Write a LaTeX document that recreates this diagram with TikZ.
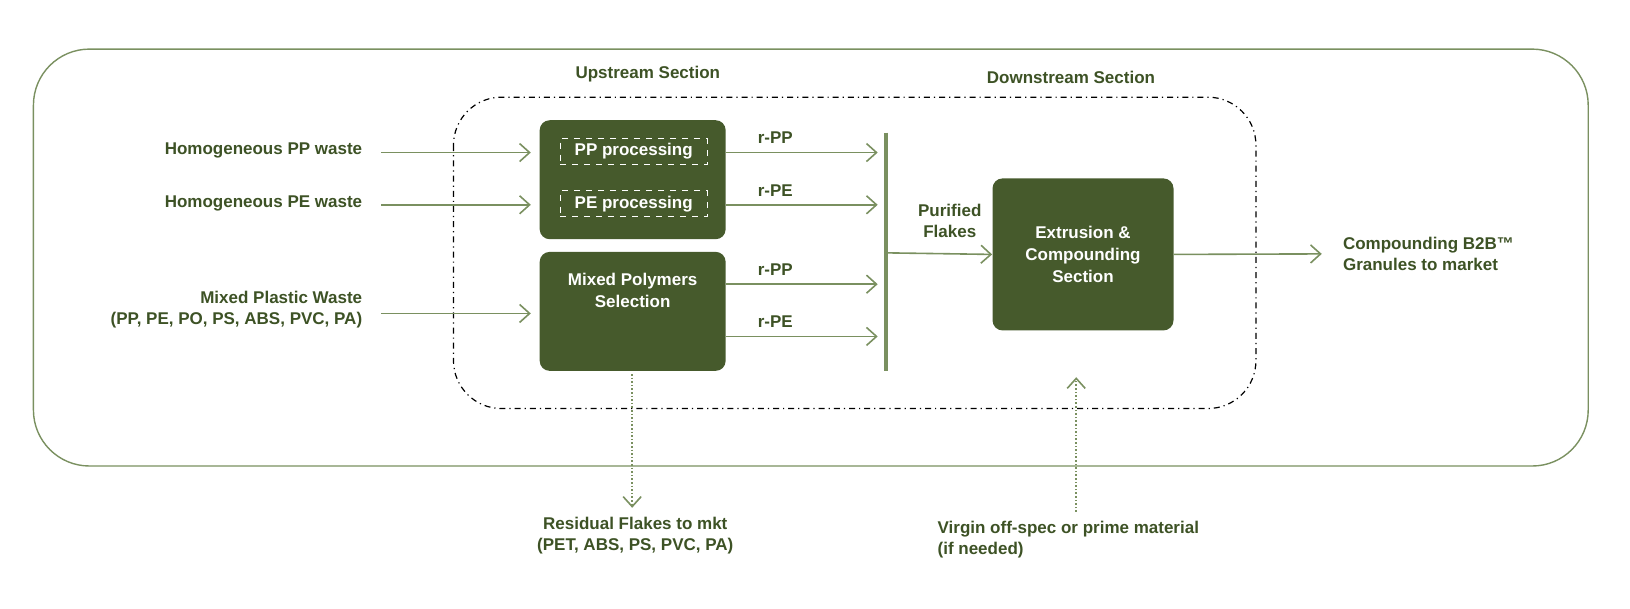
\documentclass[tikz,border=0pt]{standalone}
\usepackage{fontspec}
\setmainfont{Liberation Sans}
\usetikzlibrary{arrows.meta}
\definecolor{dg}{HTML}{465A2C}
\definecolor{tg}{HTML}{3D5225}
\definecolor{lg}{HTML}{7A9060}
\begin{document}
\begin{tikzpicture}[x=0.5225pt,y=-0.5225pt,
 lbl/.style={font=\fontsize{8.5}{10.5}\selectfont\bfseries,text=tg,inner sep=0pt},
 box/.style={fill=dg,rounded corners=5pt,draw=none},
 btxt/.style={font=\fontsize{8.5}{11}\selectfont\bfseries,text=white,align=center},
 arr/.style={draw=lg,line width=0.8pt,-{Straight Barb[length=5pt,width=9pt]}},
 darr/.style={arr,densely dotted}]
\useasboundingbox (0,0) rectangle (1560,582);
\draw[lg,line width=0.7pt,rounded corners=28pt] (32,47) rectangle (1520,446);
\draw[black,line width=0.6pt,dash dot,rounded corners=24pt] (434,93) rectangle (1202,391);
\node[lbl] (up) at (620,71) {Upstream Section};
\node[lbl] (down) at (1025,74) {Downstream Section};
\node[box,minimum width=93pt,minimum height=59.5pt] (ppe) at (605.5,172) {};
\node[draw=white,dashed,line width=0.6pt,minimum width=73.5pt,minimum height=13pt,inner sep=0pt,btxt] (pp) at (606.5,145) {PP processing};
\node[draw=white,dashed,line width=0.6pt,minimum width=73.5pt,minimum height=13pt,inner sep=0pt,btxt] (pe) at (606.5,195) {PE processing};
\node[box,minimum width=93pt,minimum height=59.5pt,btxt] (mix) at (605.5,298) {Mixed Polymers\\Selection\\[10pt]};
\node[box,minimum width=90.5pt,minimum height=76pt,btxt] (ext) at (1036.5,243.5) {Extrusion \&\\Compounding\\Section};
\node[lbl,anchor=east] (hpp) at (347,144) {Homogeneous PP waste};
\node[lbl,anchor=east] (hpe) at (347,195) {Homogeneous PE waste};
\node[lbl,anchor=east,align=right] (mpw) at (347,296) {Mixed Plastic Waste\\(PP, PE, PO, PS, ABS, PVC, PA)};
\coordinate (i1) at (365,146); \coordinate (i2) at (365,196); \coordinate (i3) at (365,300);
\coordinate (e1) at (508,146); \coordinate (e2) at (508,196); \coordinate (e3) at (508,300);
\draw[arr] (i1) -- (e1); \draw[arr] (i2) -- (e2); \draw[arr] (i3) -- (e3);
\foreach \y/\t [count=\k] in {146/r-PP,196/r-PE,272/r-PP,322/r-PE}{
 \coordinate (o\k) at (695,\y); \coordinate (t\k) at (840,\y);
 \draw[arr] (o\k) -- (t\k);
 \node[lbl] (rl\k) at (742,\y-14) {\t};}
\coordinate (b1) at (848,127); \coordinate (b2) at (848,355);
\draw[lg,line width=2.2pt] (b1) -- (b2);
\coordinate (bm) at (848,242);
\draw[arr] (bm) -- (ext.west);
\node[lbl,align=center] (pf) at (909,211) {Purified\\Flakes};
\coordinate (c1) at (1265,243);
\draw[arr] (ext.east) -- (c1);
\node[lbl,anchor=west,align=left] (cg) at (1285,243) {Compounding B2B™\\Granules to market};
\coordinate (d1) at (605,358); \coordinate (d2) at (605,486);
\draw[darr] (d1) -- (d2);
\node[lbl,align=center] (rf) at (608,513) {Residual Flakes to mkt\\(PET, ABS, PS, PVC, PA)};
\coordinate (u1) at (1030,490); \coordinate (u2) at (1030,361);
\draw[darr] (u1) -- (u2);
\node[lbl,anchor=west,align=left] (vg) at (897,516) {Virgin off-spec or prime material\\(if needed)};
\end{tikzpicture}
\end{document}
